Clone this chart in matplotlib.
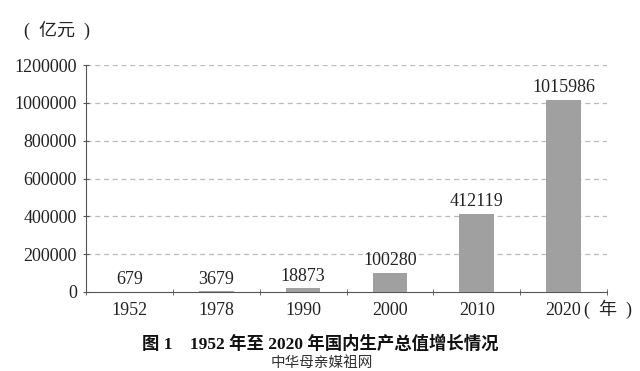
import matplotlib
matplotlib.use("Agg")
import matplotlib.pyplot as plt

categories = ["1952", "1978", "1990", "2000", "2010", "2020"]
values = [679, 3679, 18873, 100280, 412119, 1015986]
yticks = [0, 200000, 400000, 600000, 800000, 1000000, 1200000]

FAM = ["Liberation Serif", "Noto Sans CJK SC", "DejaVu Sans"]
plt.rcParams["font.family"] = FAM

fig = plt.figure(figsize=(6.4, 3.71), dpi=100)
ax = fig.add_axes([86/640, 1-292/371, (607-86)/640, (292-65)/371])

x = list(range(len(categories)))
ax.bar(x, values, width=0.4, color="#a0a0a0", zorder=3)
for xi, v in zip(x, values):
    ax.text(xi, v + 20000, str(v), ha="center", va="bottom", fontsize=13, color="#222222")

ax.set_xlim(-0.5, len(categories) - 0.5)
ax.set_ylim(0, 1200000)
ax.set_yticks(yticks)
ax.set_yticklabels([str(t) for t in yticks], fontsize=13, color="#222222")
ax.set_xticks(x)
ax.set_xticklabels(categories, fontsize=13, color="#222222")
ax.set_xticks([i - 0.5 for i in range(len(categories) + 1)], minor=True)
ax.tick_params(axis="x", which="major", length=0, pad=7)
ax.tick_params(axis="x", which="minor", length=5, direction="inout", color="#555555")
ax.tick_params(axis="y", length=5, direction="inout", color="#555555", pad=4)

for t in yticks[1:]:
    ax.axhline(t, color="#bbbbbb", linestyle=(0, (4, 3)), linewidth=0.9, zorder=1)

for s in ["top", "right"]:
    ax.spines[s].set_visible(False)
ax.spines["left"].set_color("#555555")
ax.spines["bottom"].set_color("#555555")

fig.text(24/640, 1-30/371, "(  亿元  )", fontsize=13, va="center", ha="left", color="#222222")
fig.text(584/640, 1-309/371, "(  年  )", fontsize=13, va="center", ha="left", color="#222222")
fig.text(320/640, 1-344/371, "图 1　1952 年至 2020 年国内生产总值增长情况", fontsize=12.5,
         fontweight="bold", ha="center", va="center", color="#111111")
fig.text(322/640, 1-363/371, "中华母亲媒祖网", fontsize=10.5, ha="center", va="center",
         color="#333333", family=["Noto Sans CJK SC"])

fig.savefig("out.png", dpi=100)
